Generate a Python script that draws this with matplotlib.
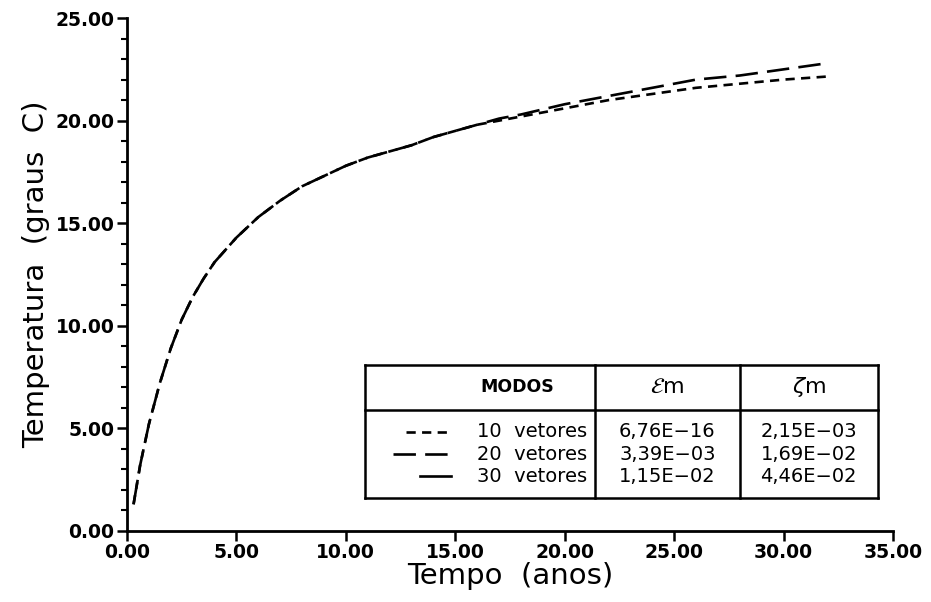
import matplotlib
matplotlib.use("Agg")
import matplotlib.pyplot as plt
from matplotlib.lines import Line2D
from matplotlib.ticker import MultipleLocator, FormatStrFormatter

# Tempo (anos) and temperature response for each number of modes
tempo = [0.3, 0.6, 1.0, 1.5, 2.0, 2.5, 3.0, 3.5, 4.0, 5.0, 6.0, 7.0, 8.0, 9.0,
         10.0, 11.0, 12.0, 13.0, 14.0, 15.0, 16.0, 17.0, 18.0, 20.0, 22.0,
         24.0, 26.0, 28.0, 30.0, 32.0]
temp_10 = [1.3, 3.2, 5.2, 7.2, 8.9, 10.3, 11.4, 12.3, 13.1, 14.3, 15.3, 16.1,
           16.8, 17.3, 17.8, 18.2, 18.5, 18.8, 19.2, 19.5, 19.8, 20.0, 20.2,
           20.6, 21.0, 21.3, 21.6, 21.8, 22.0, 22.15]
temp_20 = [1.3, 3.2, 5.2, 7.2, 8.9, 10.3, 11.4, 12.3, 13.1, 14.3, 15.3, 16.1,
           16.8, 17.3, 17.8, 18.2, 18.5, 18.8, 19.2, 19.5, 19.8, 20.1, 20.3,
           20.8, 21.2, 21.6, 22.0, 22.2, 22.5, 22.8]

# Error table
modos = ["10  vetores", "20  vetores", "30  vetores"]
erro_em = ["6,76E\u221216", "3,39E\u221203", "1,15E\u221202"]
erro_zeta = ["2,15E\u221203", "1,69E\u221202", "4,46E\u221202"]

LW = 1.9
SHORT = (0, (3.5, 2.4))
LONG = (0, (8.5, 3.5))
styles = [SHORT, LONG, "-"]

fig = plt.figure(figsize=(9.31, 6.02), dpi=100)
ax = fig.add_axes([0.1364, 0.118, 0.8228, 0.852])

ax.plot(tempo, temp_10, color="black", lw=LW, linestyle=SHORT)
ax.plot(tempo, temp_20, color="black", lw=LW, linestyle=LONG)

ax.set_xlim(0, 35)
ax.set_ylim(0, 25)
for s in ["top", "right"]:
    ax.spines[s].set_visible(False)
for s in ["left", "bottom"]:
    ax.spines[s].set_linewidth(2.0)

ax.xaxis.set_major_locator(MultipleLocator(5))
ax.yaxis.set_major_locator(MultipleLocator(5))
ax.yaxis.set_minor_locator(MultipleLocator(1))
ax.xaxis.set_major_formatter(FormatStrFormatter("%.2f"))
ax.yaxis.set_major_formatter(FormatStrFormatter("%.2f"))
ax.tick_params(axis="both", which="major", direction="out", length=7, width=1.8,
               labelsize=13.5, pad=2)
ax.tick_params(axis="y", which="minor", direction="out", length=4, width=1.5)
for lab in ax.get_xticklabels() + ax.get_yticklabels():
    lab.set_fontweight("bold")

ax.set_xlabel("Tempo  (anos)", fontsize=21, labelpad=0)
ax.set_ylabel("Temperatura  (graus  C)", fontsize=21, labelpad=4)

# Table of errors drawn in axes fraction
tr = ax.transAxes
L, R, C1, C2 = 0.311, 0.980, 0.611, 0.800
T, H, B = 0.324, 0.236, 0.064
box_kw = dict(color="black", lw=1.8, transform=tr, clip_on=False)
for xs, ys in [([L, R], [T, T]), ([L, R], [H, H]), ([L, R], [B, B]),
               ([L, L], [B, T]), ([R, R], [B, T]),
               ([C1, C1], [B, T]), ([C2, C2], [B, T])]:
    ax.add_line(Line2D(xs, ys, **box_kw))

hy = 0.281
ax.text(0.509, hy, "MODOS", transform=tr, ha="center",
        va="center", fontsize=12.5, fontweight="bold")
ax.text((C1 + C2) / 2, hy, r"$\mathcal{E}$m", transform=tr, ha="center",
        va="center", fontsize=16)
ax.text((C2 + R) / 2, hy, r"$\zeta$m", transform=tr, ha="center",
        va="center", fontsize=16)

row_y = [0.193, 0.150, 0.107]
sample_x = [(0.364, 0.423), (0.347, 0.423), (0.382, 0.423)]
for i in range(3):
    y = row_y[i]
    ax.add_line(Line2D(list(sample_x[i]), [y, y], color="black", lw=LW,
                       linestyle=styles[i], transform=tr, clip_on=False))
    ax.text(0.601, y, modos[i], transform=tr, ha="right", va="center",
            fontsize=14)
    ax.text((C1 + C2) / 2, y, erro_em[i], transform=tr, ha="center",
            va="center", fontsize=14)
    ax.text((C2 + R) / 2, y, erro_zeta[i], transform=tr, ha="center",
            va="center", fontsize=14)

fig.savefig("out.png", dpi=100, facecolor="white")
